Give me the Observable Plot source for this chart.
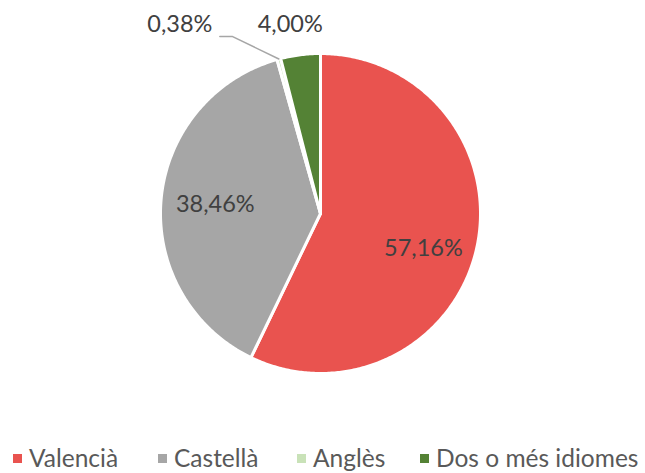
<!DOCTYPE html>
<html><head><meta charset="utf-8">
<script src="https://cdn.jsdelivr.net/npm/d3@7"></script>
<script src="https://cdn.jsdelivr.net/npm/@observablehq/plot@0.6"></script>
<style>
body{margin:0;background:#fff;font-family:Lato,"Open Sans",sans-serif;}
#legend{position:relative;height:36px;font-size:24.5px;color:#595959;white-space:nowrap;}
#legend .it{position:absolute;top:7px;display:flex;align-items:center;line-height:28px;}
#legend .sw{width:9px;height:9px;margin-right:7px;margin-top:1px;}
</style></head><body>
<div id="chart"></div>
<div id="legend"></div>
<script>
const categories = ["Valencià", "Castellà", "Anglès", "Dos o més idiomes"];
const values = [57.16, 38.46, 0.38, 4.00];
const labels = ["57,16%", "38,46%", "0,38%", "4,00%"];
const colors = ["#E9534F", "#A6A6A6", "#C9E2B8", "#548235"];

const pie = d3.pie().sort(null).value(d => d)(values);
const polys = [];
pie.forEach((s, i) => {
  const n = Math.max(4, Math.ceil((s.endAngle - s.startAngle) / 0.01));
  polys.push({cat: categories[i], x: 0, y: 0});
  for (let j = 0; j <= n; j++) {
    const a = s.startAngle + (s.endAngle - s.startAngle) * j / n;
    polys.push({cat: categories[i], x: Math.sin(a), y: Math.cos(a)});
  }
});
const mid = s => (s.startAngle + s.endAngle) / 2;
const inside = pie.slice(0, 2).map((s, i) => ({t: labels[i], x: 0.66 * Math.sin(mid(s)), y: 0.66 * Math.cos(mid(s)) - 0.07 * (i === 0 ? 1 : 0)}));
const outer4 = {t: labels[3], x: 1.19 * Math.sin(mid(pie[3])) - 0.04, y: 1.19 * Math.cos(mid(pie[3]))};
const outer0 = {t: labels[2], x: 1.19 * Math.sin(mid(pie[3])) - 0.73, y: 1.19 * Math.cos(mid(pie[3]))};
const a2 = mid(pie[2]);
const leader = [
  {x: 1.0 * Math.sin(a2), y: 1.0 * Math.cos(a2)},
  {x: outer0.x + 0.33, y: outer0.y - 0.075},
  {x: outer0.x + 0.25, y: outer0.y - 0.075}
];

const chart = Plot.plot({
  width: 645, height: 437,
  margin: 0,
  x: {domain: [-1, 1], range: [160, 480], axis: null},
  y: {domain: [-1, 1], range: [373, 53], axis: null},
  color: {domain: categories, range: colors},
  style: {fontFamily: "Lato, 'Open Sans', sans-serif"},
  marks: [
    Plot.line(polys, {x: "x", y: "y", z: "cat", fill: "cat", stroke: "white", strokeWidth: 3, curve: "linear-closed", strokeLinejoin: "round"}),
    Plot.line(leader, {x: "x", y: "y", stroke: "#A6A6A6", strokeWidth: 1.5}),
    Plot.text(inside, {x: "x", y: "y", text: "t", fontSize: 23.5, fill: "#404040"}),
    Plot.text([outer4, outer0], {x: "x", y: "y", text: "t", fontSize: 23.5, fill: "#404040"})
  ]
});
document.getElementById("chart").appendChild(chart);

const lg = document.getElementById("legend");
const lefts = [13, 158, 297, 420];
categories.forEach((c, i) => {
  const it = document.createElement("div");
  it.className = "it";
  it.style.left = lefts[i] + "px";
  it.innerHTML = `<div class="sw" style="background:${colors[i]}"></div><span>${c}</span>`;
  lg.appendChild(it);
});
</script>
</body></html>
